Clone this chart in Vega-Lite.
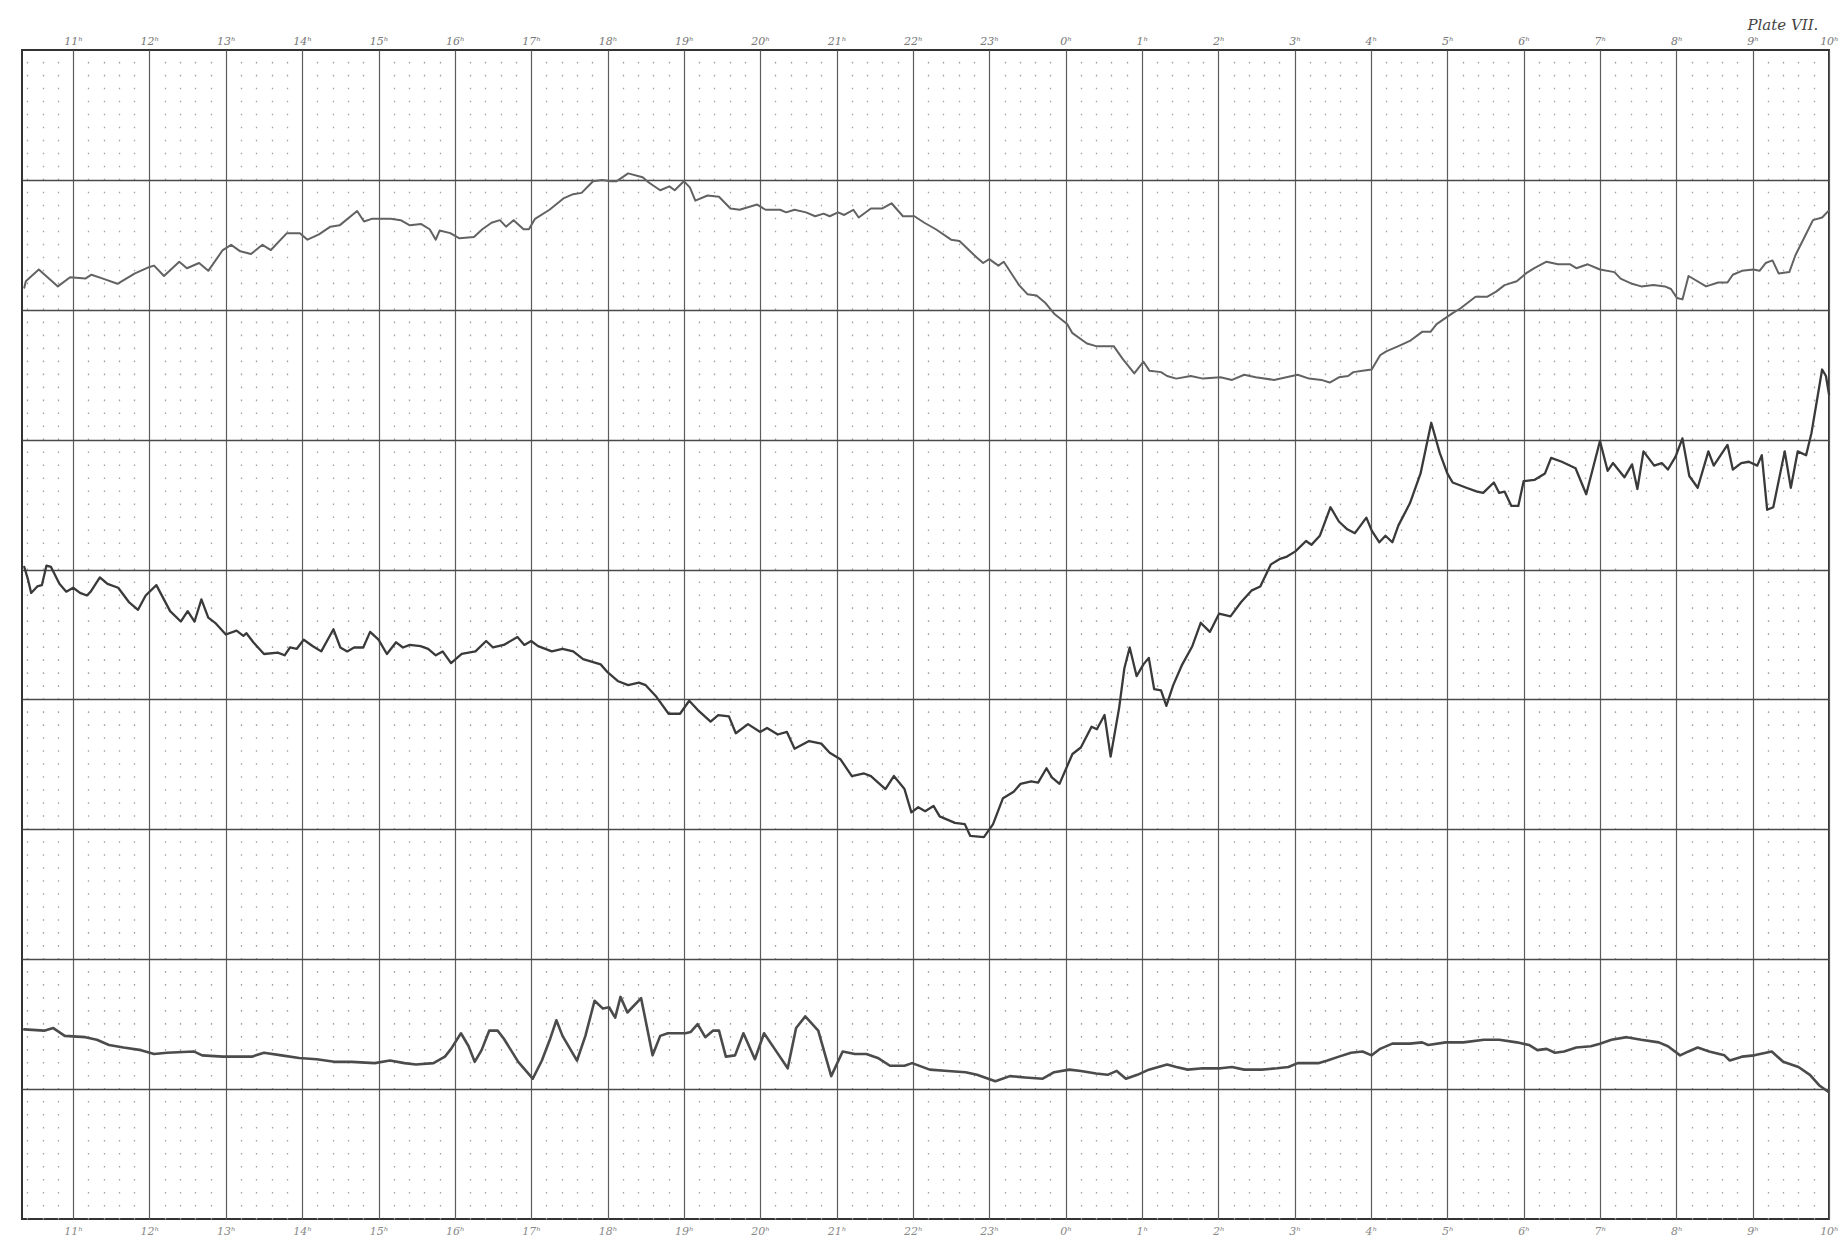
{
  "$schema": "https://vega.github.io/schema/vega-lite/v6.json",
  "width": 1807,
  "height": 1169,
  "autosize": "none",
  "padding": {"left": 22, "top": 50, "right": 12, "bottom": 36},
  "background": "white",
  "title": {"text": "Plate VII.", "anchor": "end", "font": "DejaVu Serif", "fontStyle": "italic", "fontWeight": "normal", "fontSize": 15, "color": "#444", "offset": 2, "dx": -20},
  "config": {"view": {"stroke": "#333", "strokeWidth": 2}},
  "data": {"values": [
    {"series":"upper","hour":10.36,"value":7.17},{"series":"upper","hour":10.38,"value":7.22},{"series":"upper","hour":10.55,"value":7.31},{"series":"upper","hour":10.8,"value":7.18},{"series":"upper","hour":10.96,"value":7.25},{"series":"upper","hour":11.16,"value":7.24},{"series":"upper","hour":11.24,"value":7.27},{"series":"upper","hour":11.39,"value":7.24},{"series":"upper","hour":11.58,"value":7.2},{"series":"upper","hour":11.81,"value":7.28},{"series":"upper","hour":12.0,"value":7.33},{"series":"upper","hour":12.06,"value":7.34},{"series":"upper","hour":12.19,"value":7.26},{"series":"upper","hour":12.39,"value":7.37},{"series":"upper","hour":12.49,"value":7.32},{"series":"upper","hour":12.65,"value":7.36},{"series":"upper","hour":12.77,"value":7.3},{"series":"upper","hour":12.96,"value":7.46},{"series":"upper","hour":13.07,"value":7.5},{"series":"upper","hour":13.19,"value":7.45},{"series":"upper","hour":13.33,"value":7.43},{"series":"upper","hour":13.48,"value":7.5},{"series":"upper","hour":13.59,"value":7.46},{"series":"upper","hour":13.8,"value":7.59},{"series":"upper","hour":13.97,"value":7.59},{"series":"upper","hour":14.07,"value":7.54},{"series":"upper","hour":14.22,"value":7.58},{"series":"upper","hour":14.37,"value":7.64},{"series":"upper","hour":14.49,"value":7.65},{"series":"upper","hour":14.72,"value":7.76},{"series":"upper","hour":14.81,"value":7.68},{"series":"upper","hour":14.91,"value":7.7},{"series":"upper","hour":15.16,"value":7.7},{"series":"upper","hour":15.29,"value":7.69},{"series":"upper","hour":15.41,"value":7.65},{"series":"upper","hour":15.56,"value":7.66},{"series":"upper","hour":15.67,"value":7.62},{"series":"upper","hour":15.75,"value":7.54},{"series":"upper","hour":15.8,"value":7.61},{"series":"upper","hour":15.94,"value":7.59},{"series":"upper","hour":16.06,"value":7.55},{"series":"upper","hour":16.25,"value":7.56},{"series":"upper","hour":16.36,"value":7.62},{"series":"upper","hour":16.48,"value":7.67},{"series":"upper","hour":16.59,"value":7.69},{"series":"upper","hour":16.67,"value":7.64},{"series":"upper","hour":16.77,"value":7.69},{"series":"upper","hour":16.9,"value":7.62},{"series":"upper","hour":16.97,"value":7.62},{"series":"upper","hour":17.05,"value":7.7},{"series":"upper","hour":17.24,"value":7.77},{"series":"upper","hour":17.43,"value":7.86},{"series":"upper","hour":17.55,"value":7.89},{"series":"upper","hour":17.66,"value":7.9},{"series":"upper","hour":17.81,"value":7.99},{"series":"upper","hour":17.93,"value":8.0},{"series":"upper","hour":18.04,"value":7.99},{"series":"upper","hour":18.12,"value":7.99},{"series":"upper","hour":18.27,"value":8.05},{"series":"upper","hour":18.46,"value":8.02},{"series":"upper","hour":18.54,"value":7.98},{"series":"upper","hour":18.69,"value":7.92},{"series":"upper","hour":18.81,"value":7.95},{"series":"upper","hour":18.88,"value":7.92},{"series":"upper","hour":19.0,"value":7.99},{"series":"upper","hour":19.08,"value":7.94},{"series":"upper","hour":19.15,"value":7.84},{"series":"upper","hour":19.31,"value":7.88},{"series":"upper","hour":19.46,"value":7.87},{"series":"upper","hour":19.61,"value":7.78},{"series":"upper","hour":19.73,"value":7.77},{"series":"upper","hour":19.96,"value":7.81},{"series":"upper","hour":20.07,"value":7.77},{"series":"upper","hour":20.26,"value":7.77},{"series":"upper","hour":20.34,"value":7.75},{"series":"upper","hour":20.45,"value":7.77},{"series":"upper","hour":20.6,"value":7.75},{"series":"upper","hour":20.72,"value":7.72},{"series":"upper","hour":20.83,"value":7.74},{"series":"upper","hour":20.91,"value":7.72},{"series":"upper","hour":21.02,"value":7.75},{"series":"upper","hour":21.1,"value":7.73},{"series":"upper","hour":21.22,"value":7.77},{"series":"upper","hour":21.29,"value":7.71},{"series":"upper","hour":21.45,"value":7.78},{"series":"upper","hour":21.6,"value":7.78},{"series":"upper","hour":21.72,"value":7.82},{"series":"upper","hour":21.87,"value":7.72},{"series":"upper","hour":22.02,"value":7.72},{"series":"upper","hour":22.15,"value":7.67},{"series":"upper","hour":22.3,"value":7.62},{"series":"upper","hour":22.5,"value":7.54},{"series":"upper","hour":22.61,"value":7.53},{"series":"upper","hour":22.84,"value":7.4},{"series":"upper","hour":22.92,"value":7.36},{"series":"upper","hour":23.0,"value":7.39},{"series":"upper","hour":23.12,"value":7.34},{"series":"upper","hour":23.19,"value":7.37},{"series":"upper","hour":23.39,"value":7.19},{"series":"upper","hour":23.5,"value":7.12},{"series":"upper","hour":23.62,"value":7.11},{"series":"upper","hour":23.74,"value":7.05},{"series":"upper","hour":23.85,"value":6.97},{"series":"upper","hour":24.02,"value":6.89},{"series":"upper","hour":24.09,"value":6.82},{"series":"upper","hour":24.28,"value":6.74},{"series":"upper","hour":24.4,"value":6.72},{"series":"upper","hour":24.63,"value":6.72},{"series":"upper","hour":24.75,"value":6.62},{"series":"upper","hour":24.9,"value":6.51},{"series":"upper","hour":25.02,"value":6.6},{"series":"upper","hour":25.1,"value":6.53},{"series":"upper","hour":25.25,"value":6.52},{"series":"upper","hour":25.33,"value":6.49},{"series":"upper","hour":25.45,"value":6.47},{"series":"upper","hour":25.64,"value":6.49},{"series":"upper","hour":25.8,"value":6.47},{"series":"upper","hour":26.03,"value":6.48},{"series":"upper","hour":26.18,"value":6.46},{"series":"upper","hour":26.34,"value":6.5},{"series":"upper","hour":26.49,"value":6.48},{"series":"upper","hour":26.73,"value":6.46},{"series":"upper","hour":27.04,"value":6.5},{"series":"upper","hour":27.19,"value":6.47},{"series":"upper","hour":27.35,"value":6.46},{"series":"upper","hour":27.46,"value":6.44},{"series":"upper","hour":27.58,"value":6.48},{"series":"upper","hour":27.7,"value":6.49},{"series":"upper","hour":27.77,"value":6.52},{"series":"upper","hour":27.89,"value":6.53},{"series":"upper","hour":28.01,"value":6.54},{"series":"upper","hour":28.12,"value":6.65},{"series":"upper","hour":28.2,"value":6.68},{"series":"upper","hour":28.36,"value":6.72},{"series":"upper","hour":28.51,"value":6.76},{"series":"upper","hour":28.67,"value":6.83},{"series":"upper","hour":28.78,"value":6.83},{"series":"upper","hour":28.86,"value":6.89},{"series":"upper","hour":29.06,"value":6.97},{"series":"upper","hour":29.17,"value":7.01},{"series":"upper","hour":29.37,"value":7.1},{"series":"upper","hour":29.52,"value":7.1},{"series":"upper","hour":29.64,"value":7.14},{"series":"upper","hour":29.75,"value":7.19},{"series":"upper","hour":29.91,"value":7.22},{"series":"upper","hour":30.03,"value":7.28},{"series":"upper","hour":30.14,"value":7.32},{"series":"upper","hour":30.3,"value":7.37},{"series":"upper","hour":30.45,"value":7.35},{"series":"upper","hour":30.61,"value":7.35},{"series":"upper","hour":30.69,"value":7.32},{"series":"upper","hour":30.84,"value":7.35},{"series":"upper","hour":31.0,"value":7.31},{"series":"upper","hour":31.19,"value":7.29},{"series":"upper","hour":31.27,"value":7.24},{"series":"upper","hour":31.42,"value":7.2},{"series":"upper","hour":31.54,"value":7.18},{"series":"upper","hour":31.7,"value":7.19},{"series":"upper","hour":31.85,"value":7.18},{"series":"upper","hour":31.93,"value":7.16},{"series":"upper","hour":32.01,"value":7.09},{"series":"upper","hour":32.08,"value":7.08},{"series":"upper","hour":32.16,"value":7.26},{"series":"upper","hour":32.39,"value":7.18},{"series":"upper","hour":32.55,"value":7.21},{"series":"upper","hour":32.67,"value":7.21},{"series":"upper","hour":32.74,"value":7.27},{"series":"upper","hour":32.86,"value":7.3},{"series":"upper","hour":33.01,"value":7.31},{"series":"upper","hour":33.09,"value":7.3},{"series":"upper","hour":33.17,"value":7.36},{"series":"upper","hour":33.26,"value":7.38},{"series":"upper","hour":33.34,"value":7.28},{"series":"upper","hour":33.48,"value":7.29},{"series":"upper","hour":33.56,"value":7.42},{"series":"upper","hour":33.68,"value":7.56},{"series":"upper","hour":33.79,"value":7.69},{"series":"upper","hour":33.91,"value":7.71},{"series":"upper","hour":33.99,"value":7.76},
    {"series":"middle","hour":10.36,"value":5.02},{"series":"middle","hour":10.41,"value":4.92},{"series":"middle","hour":10.45,"value":4.82},{"series":"middle","hour":10.53,"value":4.87},{"series":"middle","hour":10.59,"value":4.88},{"series":"middle","hour":10.65,"value":5.03},{"series":"middle","hour":10.71,"value":5.02},{"series":"middle","hour":10.82,"value":4.89},{"series":"middle","hour":10.91,"value":4.83},{"series":"middle","hour":11.0,"value":4.86},{"series":"middle","hour":11.09,"value":4.82},{"series":"middle","hour":11.18,"value":4.8},{"series":"middle","hour":11.23,"value":4.83},{"series":"middle","hour":11.35,"value":4.94},{"series":"middle","hour":11.45,"value":4.89},{"series":"middle","hour":11.59,"value":4.86},{"series":"middle","hour":11.73,"value":4.75},{"series":"middle","hour":11.85,"value":4.69},{"series":"middle","hour":11.95,"value":4.8},{"series":"middle","hour":12.09,"value":4.88},{"series":"middle","hour":12.18,"value":4.78},{"series":"middle","hour":12.27,"value":4.68},{"series":"middle","hour":12.41,"value":4.6},{"series":"middle","hour":12.5,"value":4.68},{"series":"middle","hour":12.59,"value":4.6},{"series":"middle","hour":12.68,"value":4.77},{"series":"middle","hour":12.77,"value":4.63},{"series":"middle","hour":12.86,"value":4.59},{"series":"middle","hour":13.0,"value":4.5},{"series":"middle","hour":13.14,"value":4.53},{"series":"middle","hour":13.23,"value":4.49},{"series":"middle","hour":13.27,"value":4.51},{"series":"middle","hour":13.36,"value":4.44},{"series":"middle","hour":13.5,"value":4.35},{"series":"middle","hour":13.68,"value":4.36},{"series":"middle","hour":13.77,"value":4.34},{"series":"middle","hour":13.84,"value":4.4},{"series":"middle","hour":13.93,"value":4.39},{"series":"middle","hour":14.02,"value":4.46},{"series":"middle","hour":14.14,"value":4.41},{"series":"middle","hour":14.25,"value":4.37},{"series":"middle","hour":14.41,"value":4.54},{"series":"middle","hour":14.5,"value":4.4},{"series":"middle","hour":14.59,"value":4.37},{"series":"middle","hour":14.68,"value":4.4},{"series":"middle","hour":14.8,"value":4.4},{"series":"middle","hour":14.89,"value":4.52},{"series":"middle","hour":15.0,"value":4.46},{"series":"middle","hour":15.11,"value":4.35},{"series":"middle","hour":15.23,"value":4.44},{"series":"middle","hour":15.32,"value":4.4},{"series":"middle","hour":15.41,"value":4.42},{"series":"middle","hour":15.55,"value":4.41},{"series":"middle","hour":15.65,"value":4.39},{"series":"middle","hour":15.75,"value":4.34},{"series":"middle","hour":15.84,"value":4.37},{"series":"middle","hour":15.95,"value":4.28},{"series":"middle","hour":16.09,"value":4.35},{"series":"middle","hour":16.27,"value":4.37},{"series":"middle","hour":16.41,"value":4.45},{"series":"middle","hour":16.5,"value":4.4},{"series":"middle","hour":16.64,"value":4.42},{"series":"middle","hour":16.82,"value":4.48},{"series":"middle","hour":16.91,"value":4.42},{"series":"middle","hour":17.0,"value":4.45},{"series":"middle","hour":17.09,"value":4.41},{"series":"middle","hour":17.27,"value":4.37},{"series":"middle","hour":17.41,"value":4.39},{"series":"middle","hour":17.55,"value":4.37},{"series":"middle","hour":17.68,"value":4.31},{"series":"middle","hour":17.91,"value":4.27},{"series":"middle","hour":18.0,"value":4.21},{"series":"middle","hour":18.14,"value":4.14},{"series":"middle","hour":18.27,"value":4.11},{"series":"middle","hour":18.41,"value":4.13},{"series":"middle","hour":18.5,"value":4.11},{"series":"middle","hour":18.64,"value":4.02},{"series":"middle","hour":18.8,"value":3.89},{"series":"middle","hour":18.95,"value":3.89},{"series":"middle","hour":19.07,"value":3.99},{"series":"middle","hour":19.18,"value":3.92},{"series":"middle","hour":19.35,"value":3.83},{"series":"middle","hour":19.45,"value":3.88},{"series":"middle","hour":19.59,"value":3.87},{"series":"middle","hour":19.68,"value":3.74},{"series":"middle","hour":19.84,"value":3.81},{"series":"middle","hour":20.0,"value":3.75},{"series":"middle","hour":20.09,"value":3.78},{"series":"middle","hour":20.23,"value":3.73},{"series":"middle","hour":20.35,"value":3.75},{"series":"middle","hour":20.45,"value":3.62},{"series":"middle","hour":20.64,"value":3.68},{"series":"middle","hour":20.8,"value":3.66},{"series":"middle","hour":20.91,"value":3.59},{"series":"middle","hour":21.05,"value":3.54},{"series":"middle","hour":21.2,"value":3.41},{"series":"middle","hour":21.36,"value":3.43},{"series":"middle","hour":21.45,"value":3.41},{"series":"middle","hour":21.64,"value":3.31},{"series":"middle","hour":21.75,"value":3.41},{"series":"middle","hour":21.89,"value":3.31},{"series":"middle","hour":21.98,"value":3.13},{"series":"middle","hour":22.07,"value":3.17},{"series":"middle","hour":22.16,"value":3.14},{"series":"middle","hour":22.27,"value":3.18},{"series":"middle","hour":22.35,"value":3.1},{"series":"middle","hour":22.55,"value":3.05},{"series":"middle","hour":22.68,"value":3.04},{"series":"middle","hour":22.75,"value":2.95},{"series":"middle","hour":22.93,"value":2.94},{"series":"middle","hour":23.05,"value":3.04},{"series":"middle","hour":23.18,"value":3.24},{"series":"middle","hour":23.32,"value":3.29},{"series":"middle","hour":23.41,"value":3.35},{"series":"middle","hour":23.55,"value":3.37},{"series":"middle","hour":23.64,"value":3.36},{"series":"middle","hour":23.75,"value":3.47},{"series":"middle","hour":23.82,"value":3.4},{"series":"middle","hour":23.92,"value":3.35},{"series":"middle","hour":24.09,"value":3.58},{"series":"middle","hour":24.2,"value":3.63},{"series":"middle","hour":24.34,"value":3.79},{"series":"middle","hour":24.41,"value":3.77},{"series":"middle","hour":24.51,"value":3.88},{"series":"middle","hour":24.59,"value":3.56},{"series":"middle","hour":24.7,"value":3.93},{"series":"middle","hour":24.77,"value":4.24},{"series":"middle","hour":24.84,"value":4.4},{"series":"middle","hour":24.93,"value":4.18},{"series":"middle","hour":25.02,"value":4.27},{"series":"middle","hour":25.09,"value":4.32},{"series":"middle","hour":25.16,"value":4.08},{"series":"middle","hour":25.25,"value":4.07},{"series":"middle","hour":25.32,"value":3.95},{"series":"middle","hour":25.41,"value":4.11},{"series":"middle","hour":25.52,"value":4.26},{"series":"middle","hour":25.66,"value":4.41},{"series":"middle","hour":25.77,"value":4.59},{"series":"middle","hour":25.89,"value":4.52},{"series":"middle","hour":26.01,"value":4.66},{"series":"middle","hour":26.16,"value":4.64},{"series":"middle","hour":26.3,"value":4.75},{"series":"middle","hour":26.44,"value":4.84},{"series":"middle","hour":26.55,"value":4.87},{"series":"middle","hour":26.69,"value":5.04},{"series":"middle","hour":26.8,"value":5.08},{"series":"middle","hour":26.9,"value":5.1},{"series":"middle","hour":27.01,"value":5.14},{"series":"middle","hour":27.15,"value":5.22},{"series":"middle","hour":27.22,"value":5.19},{"series":"middle","hour":27.33,"value":5.26},{"series":"middle","hour":27.47,"value":5.48},{"series":"middle","hour":27.58,"value":5.37},{"series":"middle","hour":27.69,"value":5.31},{"series":"middle","hour":27.79,"value":5.28},{"series":"middle","hour":27.94,"value":5.4},{"series":"middle","hour":28.01,"value":5.3},{"series":"middle","hour":28.11,"value":5.21},{"series":"middle","hour":28.19,"value":5.26},{"series":"middle","hour":28.28,"value":5.21},{"series":"middle","hour":28.36,"value":5.34},{"series":"middle","hour":28.51,"value":5.51},{"series":"middle","hour":28.65,"value":5.74},{"series":"middle","hour":28.79,"value":6.13},{"series":"middle","hour":28.9,"value":5.9},{"series":"middle","hour":29.0,"value":5.74},{"series":"middle","hour":29.07,"value":5.67},{"series":"middle","hour":29.25,"value":5.63},{"series":"middle","hour":29.39,"value":5.6},{"series":"middle","hour":29.47,"value":5.59},{"series":"middle","hour":29.61,"value":5.67},{"series":"middle","hour":29.68,"value":5.59},{"series":"middle","hour":29.75,"value":5.6},{"series":"middle","hour":29.84,"value":5.49},{"series":"middle","hour":29.93,"value":5.49},{"series":"middle","hour":30.0,"value":5.68},{"series":"middle","hour":30.14,"value":5.69},{"series":"middle","hour":30.28,"value":5.74},{"series":"middle","hour":30.36,"value":5.86},{"series":"middle","hour":30.5,"value":5.83},{"series":"middle","hour":30.68,"value":5.78},{"series":"middle","hour":30.82,"value":5.58},{"series":"middle","hour":31.0,"value":5.99},{"series":"middle","hour":31.1,"value":5.76},{"series":"middle","hour":31.17,"value":5.82},{"series":"middle","hour":31.32,"value":5.71},{"series":"middle","hour":31.42,"value":5.81},{"series":"middle","hour":31.49,"value":5.62},{"series":"middle","hour":31.57,"value":5.91},{"series":"middle","hour":31.71,"value":5.8},{"series":"middle","hour":31.81,"value":5.82},{"series":"middle","hour":31.89,"value":5.77},{"series":"middle","hour":31.99,"value":5.87},{"series":"middle","hour":32.08,"value":6.01},{"series":"middle","hour":32.17,"value":5.72},{"series":"middle","hour":32.28,"value":5.63},{"series":"middle","hour":32.42,"value":5.91},{"series":"middle","hour":32.49,"value":5.8},{"series":"middle","hour":32.67,"value":5.96},{"series":"middle","hour":32.74,"value":5.77},{"series":"middle","hour":32.85,"value":5.82},{"series":"middle","hour":32.95,"value":5.83},{"series":"middle","hour":33.06,"value":5.8},{"series":"middle","hour":33.12,"value":5.88},{"series":"middle","hour":33.19,"value":5.46},{"series":"middle","hour":33.27,"value":5.48},{"series":"middle","hour":33.42,"value":5.91},{"series":"middle","hour":33.5,"value":5.63},{"series":"middle","hour":33.59,"value":5.91},{"series":"middle","hour":33.7,"value":5.88},{"series":"middle","hour":33.77,"value":6.05},{"series":"middle","hour":33.91,"value":6.54},{"series":"middle","hour":33.96,"value":6.49},{"series":"middle","hour":34.0,"value":6.35},
    {"series":"lower","hour":10.36,"value":1.46},{"series":"lower","hour":10.62,"value":1.45},{"series":"lower","hour":10.74,"value":1.47},{"series":"lower","hour":10.89,"value":1.41},{"series":"lower","hour":11.16,"value":1.4},{"series":"lower","hour":11.31,"value":1.38},{"series":"lower","hour":11.47,"value":1.34},{"series":"lower","hour":11.66,"value":1.32},{"series":"lower","hour":11.89,"value":1.3},{"series":"lower","hour":12.06,"value":1.27},{"series":"lower","hour":12.23,"value":1.28},{"series":"lower","hour":12.58,"value":1.29},{"series":"lower","hour":12.69,"value":1.26},{"series":"lower","hour":12.96,"value":1.25},{"series":"lower","hour":13.11,"value":1.25},{"series":"lower","hour":13.34,"value":1.25},{"series":"lower","hour":13.5,"value":1.28},{"series":"lower","hour":13.73,"value":1.26},{"series":"lower","hour":13.96,"value":1.24},{"series":"lower","hour":14.19,"value":1.23},{"series":"lower","hour":14.42,"value":1.21},{"series":"lower","hour":14.65,"value":1.21},{"series":"lower","hour":14.95,"value":1.2},{"series":"lower","hour":15.15,"value":1.22},{"series":"lower","hour":15.34,"value":1.2},{"series":"lower","hour":15.49,"value":1.19},{"series":"lower","hour":15.72,"value":1.2},{"series":"lower","hour":15.87,"value":1.25},{"series":"lower","hour":15.95,"value":1.31},{"series":"lower","hour":16.08,"value":1.43},{"series":"lower","hour":16.18,"value":1.33},{"series":"lower","hour":16.26,"value":1.21},{"series":"lower","hour":16.35,"value":1.3},{"series":"lower","hour":16.45,"value":1.45},{"series":"lower","hour":16.56,"value":1.45},{"series":"lower","hour":16.64,"value":1.39},{"series":"lower","hour":16.83,"value":1.21},{"series":"lower","hour":17.02,"value":1.08},{"series":"lower","hour":17.14,"value":1.22},{"series":"lower","hour":17.25,"value":1.39},{"series":"lower","hour":17.33,"value":1.53},{"series":"lower","hour":17.41,"value":1.41},{"series":"lower","hour":17.6,"value":1.22},{"series":"lower","hour":17.71,"value":1.41},{"series":"lower","hour":17.83,"value":1.68},{"series":"lower","hour":17.94,"value":1.62},{"series":"lower","hour":18.02,"value":1.63},{"series":"lower","hour":18.1,"value":1.55},{"series":"lower","hour":18.17,"value":1.71},{"series":"lower","hour":18.26,"value":1.59},{"series":"lower","hour":18.44,"value":1.7},{"series":"lower","hour":18.56,"value":1.35},{"series":"lower","hour":18.59,"value":1.26},{"series":"lower","hour":18.69,"value":1.41},{"series":"lower","hour":18.79,"value":1.43},{"series":"lower","hour":19.02,"value":1.43},{"series":"lower","hour":19.09,"value":1.44},{"series":"lower","hour":19.18,"value":1.5},{"series":"lower","hour":19.28,"value":1.4},{"series":"lower","hour":19.38,"value":1.45},{"series":"lower","hour":19.46,"value":1.45},{"series":"lower","hour":19.55,"value":1.25},{"series":"lower","hour":19.67,"value":1.26},{"series":"lower","hour":19.78,"value":1.43},{"series":"lower","hour":19.93,"value":1.23},{"series":"lower","hour":20.05,"value":1.43},{"series":"lower","hour":20.2,"value":1.3},{"series":"lower","hour":20.36,"value":1.16},{"series":"lower","hour":20.47,"value":1.47},{"series":"lower","hour":20.59,"value":1.56},{"series":"lower","hour":20.76,"value":1.45},{"series":"lower","hour":20.93,"value":1.1},{"series":"lower","hour":21.08,"value":1.29},{"series":"lower","hour":21.24,"value":1.27},{"series":"lower","hour":21.39,"value":1.27},{"series":"lower","hour":21.54,"value":1.24},{"series":"lower","hour":21.7,"value":1.18},{"series":"lower","hour":21.89,"value":1.18},{"series":"lower","hour":21.99,"value":1.2},{"series":"lower","hour":22.22,"value":1.15},{"series":"lower","hour":22.46,"value":1.14},{"series":"lower","hour":22.69,"value":1.13},{"series":"lower","hour":22.84,"value":1.11},{"series":"lower","hour":23.08,"value":1.06},{"series":"lower","hour":23.27,"value":1.1},{"series":"lower","hour":23.47,"value":1.09},{"series":"lower","hour":23.7,"value":1.08},{"series":"lower","hour":23.85,"value":1.13},{"series":"lower","hour":24.05,"value":1.15},{"series":"lower","hour":24.2,"value":1.14},{"series":"lower","hour":24.4,"value":1.12},{"series":"lower","hour":24.55,"value":1.11},{"series":"lower","hour":24.67,"value":1.14},{"series":"lower","hour":24.79,"value":1.08},{"series":"lower","hour":24.94,"value":1.11},{"series":"lower","hour":25.09,"value":1.15},{"series":"lower","hour":25.33,"value":1.19},{"series":"lower","hour":25.45,"value":1.17},{"series":"lower","hour":25.6,"value":1.15},{"series":"lower","hour":25.8,"value":1.16},{"series":"lower","hour":26.03,"value":1.16},{"series":"lower","hour":26.18,"value":1.17},{"series":"lower","hour":26.34,"value":1.15},{"series":"lower","hour":26.57,"value":1.15},{"series":"lower","hour":26.77,"value":1.16},{"series":"lower","hour":26.92,"value":1.17},{"series":"lower","hour":27.04,"value":1.2},{"series":"lower","hour":27.31,"value":1.2},{"series":"lower","hour":27.43,"value":1.22},{"series":"lower","hour":27.58,"value":1.25},{"series":"lower","hour":27.74,"value":1.28},{"series":"lower","hour":27.89,"value":1.29},{"series":"lower","hour":28.01,"value":1.26},{"series":"lower","hour":28.12,"value":1.31},{"series":"lower","hour":28.28,"value":1.35},{"series":"lower","hour":28.51,"value":1.35},{"series":"lower","hour":28.67,"value":1.36},{"series":"lower","hour":28.75,"value":1.34},{"series":"lower","hour":28.98,"value":1.36},{"series":"lower","hour":29.21,"value":1.36},{"series":"lower","hour":29.48,"value":1.38},{"series":"lower","hour":29.68,"value":1.38},{"series":"lower","hour":29.91,"value":1.36},{"series":"lower","hour":30.07,"value":1.34},{"series":"lower","hour":30.18,"value":1.3},{"series":"lower","hour":30.3,"value":1.31},{"series":"lower","hour":30.41,"value":1.28},{"series":"lower","hour":30.53,"value":1.29},{"series":"lower","hour":30.69,"value":1.32},{"series":"lower","hour":30.88,"value":1.33},{"series":"lower","hour":31.0,"value":1.35},{"series":"lower","hour":31.15,"value":1.38},{"series":"lower","hour":31.35,"value":1.4},{"series":"lower","hour":31.54,"value":1.38},{"series":"lower","hour":31.77,"value":1.36},{"series":"lower","hour":31.89,"value":1.33},{"series":"lower","hour":32.05,"value":1.26},{"series":"lower","hour":32.16,"value":1.29},{"series":"lower","hour":32.28,"value":1.32},{"series":"lower","hour":32.43,"value":1.29},{"series":"lower","hour":32.63,"value":1.26},{"series":"lower","hour":32.7,"value":1.22},{"series":"lower","hour":32.86,"value":1.25},{"series":"lower","hour":33.02,"value":1.26},{"series":"lower","hour":33.25,"value":1.29},{"series":"lower","hour":33.4,"value":1.21},{"series":"lower","hour":33.6,"value":1.17},{"series":"lower","hour":33.75,"value":1.11},{"series":"lower","hour":33.87,"value":1.03},{"series":"lower","hour":33.99,"value":0.98}
  ]},
  "resolve": {"axis": {"x": "independent"}},
  "layer": [
    {
      "mark": {"type": "line", "strokeJoin": "round", "strokeCap": "round"},
      "encoding": {
        "x": {"field": "hour", "type": "quantitative",
          "scale": {"domain": [10.33, 34], "nice": false, "zero": false},
          "axis": {"orient": "top", "title": null, "domain": false, "ticks": false, "labelOverlap": false,
            "values": [10.4,10.6,10.8,11,11.2,11.4,11.6,11.8,12,12.2,12.4,12.6,12.8,13,13.2,13.4,13.6,13.8,14,14.2,14.4,14.6,14.8,15,15.2,15.4,15.6,15.8,16,16.2,16.4,16.6,16.8,17,17.2,17.4,17.6,17.8,18,18.2,18.4,18.6,18.8,19,19.2,19.4,19.6,19.8,20,20.2,20.4,20.6,20.8,21,21.2,21.4,21.6,21.8,22,22.2,22.4,22.6,22.8,23,23.2,23.4,23.6,23.8,24,24.2,24.4,24.6,24.8,25,25.2,25.4,25.6,25.8,26,26.2,26.4,26.6,26.8,27,27.2,27.4,27.6,27.8,28,28.2,28.4,28.6,28.8,29,29.2,29.4,29.6,29.8,30,30.2,30.4,30.6,30.8,31,31.2,31.4,31.6,31.8,32,32.2,32.4,32.6,32.8,33,33.2,33.4,33.6,33.8,34],
            "labelExpr": "abs(datum.value - round(datum.value)) < 0.001 ? (round(datum.value) % 24) + 'ʰ' : ''",
            "labelFont": "DejaVu Serif", "labelFontStyle": "italic", "labelFontSize": 11, "labelColor": "#777", "labelPadding": 4, "labelFlush": false,
            "grid": true,
            "gridColor": {"condition": {"test": "abs(datum.value - round(datum.value)) < 0.001", "value": "#5c5c5c"}, "value": "#a0a0a0"},
            "gridWidth": {"condition": {"test": "abs(datum.value - round(datum.value)) < 0.001", "value": 1.2}, "value": 1.3},
            "gridDash": {"condition": {"test": "abs(datum.value - round(datum.value)) < 0.001", "value": [1, 0]}, "value": [1.6, 11.39]}
          }},
        "y": {"field": "value", "type": "quantitative",
          "scale": {"domain": [0, 9], "nice": false, "zero": false},
          "axis": {"orient": "left", "title": null, "domain": false, "ticks": false, "labels": false,
            "values": [1, 2, 3, 4, 5, 6, 7, 8], "grid": true, "gridColor": "#4a4a4a", "gridWidth": 1.5}},
        "color": {"field": "series", "type": "nominal", "legend": null,
          "scale": {"domain": ["upper", "middle", "lower"], "range": ["#626262", "#3a3a3a", "#4b4b4b"]}},
        "strokeWidth": {"field": "series", "type": "nominal", "legend": null,
          "scale": {"domain": ["upper", "middle", "lower"], "range": [2, 2.6, 2.3]}}
      }
    },
    {
      "mark": {"type": "point", "opacity": 0},
      "encoding": {
        "x": {"field": "hour", "type": "quantitative",
          "axis": {"orient": "bottom", "title": null, "domain": false, "ticks": false, "grid": false, "labelOverlap": false,
            "values": [11,12,13,14,15,16,17,18,19,20,21,22,23,24,25,26,27,28,29,30,31,32,33,34],
            "labelExpr": "(round(datum.value) % 24) + 'ʰ'",
            "labelFont": "DejaVu Serif", "labelFontStyle": "italic", "labelFontSize": 11, "labelColor": "#888", "labelPadding": 6, "labelFlush": false}}
      }
    }
  ]
}
